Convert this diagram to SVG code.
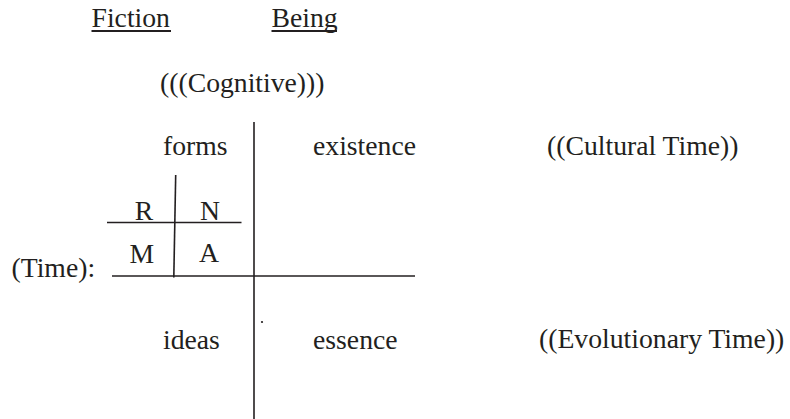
<svg xmlns="http://www.w3.org/2000/svg" width="790" height="419" viewBox="0 0 790 419">
<style>
text{font-family:"Liberation Serif","Times New Roman",serif;font-size:27.7px;fill:#231f20}
.ln{stroke:#231f20;stroke-width:1.6;fill:none}
.ul{stroke:#231f20;stroke-width:2.2}
</style>
<rect width="790" height="419" fill="#fff"/>
<g id="headers">
<text x="91.5" y="27">Fiction</text>
<line class="ul" x1="91.5" y1="31" x2="171" y2="31"/>
<text x="271.5" y="27">Being</text>
<line class="ul" x1="271.5" y1="31" x2="337" y2="31"/>
</g>
<g id="cognitive"><text x="160" y="92">(((Cognitive)))</text></g>
<g id="forms"><text x="163" y="155">forms</text></g>
<g id="existence"><text x="313" y="155">existence</text></g>
<g id="cultural"><text x="547" y="155">((Cultural Time))</text></g>
<g id="R"><text x="144" y="220" text-anchor="middle">R</text></g>
<g id="N"><text x="210" y="220" text-anchor="middle">N</text></g>
<g id="M"><text x="141.7" y="262.5" text-anchor="middle">M</text></g>
<g id="A"><text x="209" y="262" text-anchor="middle">A</text></g>
<g id="time"><text x="11.5" y="277">(Time):</text></g>
<g id="ideas"><text x="163" y="349">ideas</text></g>
<g id="essence"><text x="313" y="349">essence</text></g>
<g id="evolutionary"><text x="539" y="348">((Evolutionary Time))</text></g>
<g id="connectors">
<line class="ln" x1="254" y1="122" x2="254" y2="419"/>
<line class="ln" x1="112" y1="276" x2="415" y2="276"/>
<line class="ln" x1="175.7" y1="175" x2="173.8" y2="277.5"/>
<line class="ln" x1="107" y1="222.5" x2="241.5" y2="222.5"/>
<circle cx="262" cy="322" r="1.1" fill="#231f20"/>
</g>
</svg>
